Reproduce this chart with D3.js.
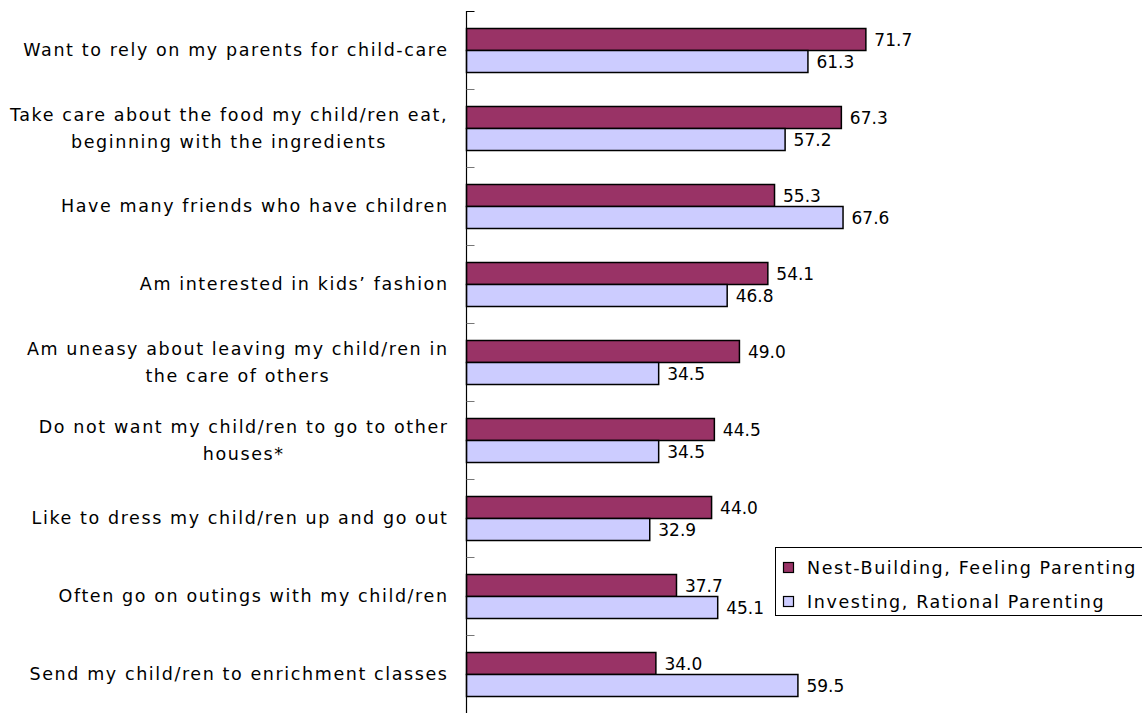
<!DOCTYPE html>
<html>
<head>
<meta charset="utf-8">
<script src="https://cdn.jsdelivr.net/npm/d3@7/dist/d3.min.js"></script>
<style>
  html, body { margin: 0; padding: 0; background: #fff; }
  svg { display: block; }
  text { font-family: "DejaVu Sans", sans-serif; fill: #000; }
  text.wide { letter-spacing: 1.6px; }
</style>
</head>
<body>
<svg id="chart" width="1142" height="713"></svg>
<script>
// Category labels (each entry holds its wrapped lines)
const categories = [
  ["Want to rely on my parents for child-care"],
  ["Take care about the food my child/ren eat,", "beginning with the ingredients"],
  ["Have many friends who have children"],
  ["Am interested in kids’ fashion"],
  ["Am uneasy about leaving my child/ren in", "the care of others"],
  ["Do not want my child/ren to go to other", "houses*"],
  ["Like to dress my child/ren up and go out"],
  ["Often go on outings with my child/ren"],
  ["Send my child/ren to enrichment classes"]
];
const seriesNames = ["Nest-Building, Feeling Parenting", "Investing, Rational Parenting"];
const nestBuilding = [71.7, 67.3, 55.3, 54.1, 49.0, 44.5, 44.0, 37.7, 34.0];
const investing   = [61.3, 57.2, 67.6, 46.8, 34.5, 34.5, 32.9, 45.1, 59.5];
const seriesColors = ["#993366", "#CCCCFF"];

const svg = d3.select("#chart");
const x0 = 466.5;
const FONT = 17.5;

const keys = categories.map((c, i) => "c" + i);
const y = d3.scaleBand().domain(keys).range([11, 713]).paddingInner(0).paddingOuter(0);
const ySub = d3.scaleBand().domain(seriesNames).range([17.5, 61.5]);
const x = d3.scaleLinear().domain([0, 80]).range([x0, x0 + 5.57 * 80]);

const rows = categories.map((lines, i) => ({
  key: keys[i], lines,
  values: [nestBuilding[i], investing[i]]
}));

// Bars and value labels
const groups = svg.append("g").selectAll("g")
  .data(rows).join("g")
  .attr("transform", d => `translate(0,${y(d.key)})`);

groups.selectAll("rect")
  .data(d => d.values.map((v, j) => ({ v, s: seriesNames[j], c: seriesColors[j] })))
  .join("rect")
  .attr("x", x(0))
  .attr("y", d => ySub(d.s))
  .attr("width", d => x(d.v) - x(0))
  .attr("height", ySub.bandwidth())
  .attr("fill", d => d.c)
  .attr("stroke", "#000")
  .attr("stroke-width", 1.5);

groups.selectAll("text.val")
  .data(d => d.values.map((v, j) => ({ v, s: seriesNames[j] })))
  .join("text")
  .attr("class", "val")
  .attr("x", d => x(d.v) + 8.5)
  .attr("y", d => ySub(d.s) + ySub.bandwidth() / 2)
  .attr("dy", "0.36em")
  .attr("font-size", 17)
  .text(d => d3.format(".1f")(d.v));

// Category labels: block right-aligned to the axis, lines centred within the block
const labelRight = 448.6;
const lbl = svg.append("g").selectAll("g")
  .data(rows).join("g")
  .attr("transform", d => `translate(0,${y(d.key) + y.bandwidth() / 2})`);
lbl.each(function (d) {
  const g = d3.select(this);
  const texts = d.lines.map((t, k) => g.append("text")
    .attr("class", "wide")
    .attr("font-size", FONT)
    .attr("text-anchor", "middle")
    .attr("y", (k - (d.lines.length - 1) / 2) * 26.5)
    .attr("dy", "0.36em")
    .text(t));
  const w = d3.max(texts, t => t.node().getBBox().width);
  texts.forEach(t => t.attr("x", labelRight - w / 2));
});

// Category axis: vertical line with inward ticks at band edges
const edges = keys.map(k => y(k));
svg.append("line")
  .attr("x1", x0).attr("x2", x0)
  .attr("y1", 11).attr("y2", 713)
  .attr("stroke", "#000").attr("stroke-width", 1.2);
svg.append("g").selectAll("line")
  .data(edges).join("line")
  .attr("x1", x0).attr("x2", x0 + 8)
  .attr("y1", d => Math.round(d) + 0.5).attr("y2", d => Math.round(d) + 0.5)
  .attr("stroke", (d, i) => i === 0 ? "#000" : "#777")
  .attr("stroke-width", 1);

// Legend
const legend = svg.append("g").attr("transform", "translate(775,547)");
legend.append("rect")
  .attr("x", 0.5).attr("y", 0.5)
  .attr("width", 380).attr("height", 68)
  .attr("fill", "#fff").attr("stroke", "#000").attr("stroke-width", 1);
const items = legend.selectAll("g.item")
  .data(seriesNames).join("g")
  .attr("class", "item")
  .attr("transform", (d, i) => `translate(0,${21 + i * 34})`);
items.append("rect")
  .attr("x", 8.5).attr("y", -5.5)
  .attr("width", 10).attr("height", 10)
  .attr("fill", (d, i) => seriesColors[i])
  .attr("stroke", "#000").attr("stroke-width", 1.2);
items.append("text")
  .attr("class", "wide")
  .attr("x", 32).attr("y", 0)
  .attr("dy", "0.36em")
  .attr("font-size", FONT)
  .text(d => d);
</script>
</body>
</html>
